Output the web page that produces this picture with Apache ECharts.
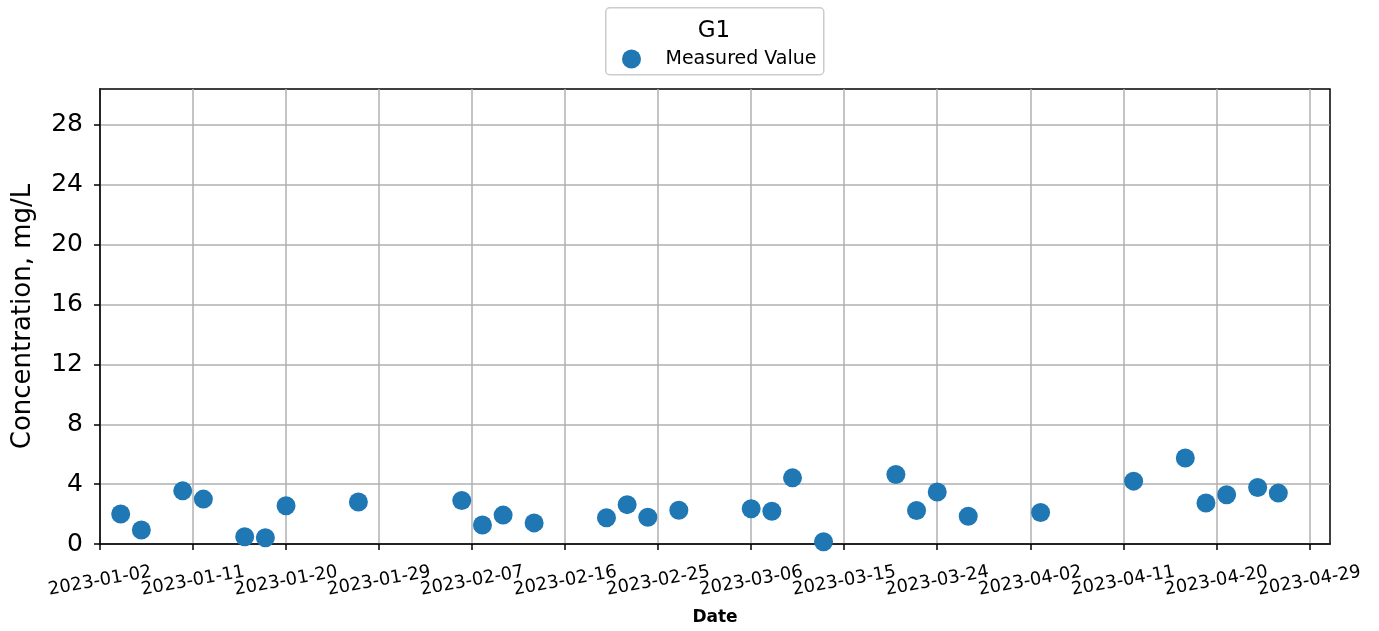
<!DOCTYPE html>
<html>
<head>
<meta charset="utf-8">
<script src="https://cdn.jsdelivr.net/npm/echarts@6/dist/echarts.min.js"></script>
<style>
html,body{margin:0;padding:0;background:#fff;}
#chart{width:1379px;height:631px;}
</style>
</head>
<body>
<div id="chart"></div>
<script>
// ---- data ----
const dates = [
  '2023-01-04','2023-01-06','2023-01-10','2023-01-12','2023-01-16','2023-01-18','2023-01-20',
  '2023-01-27','2023-02-06','2023-02-08','2023-02-10','2023-02-13','2023-02-20','2023-02-22',
  '2023-02-24','2023-02-27','2023-03-06','2023-03-08','2023-03-10','2023-03-13','2023-03-20',
  '2023-03-22','2023-03-24','2023-03-27','2023-04-03','2023-04-12','2023-04-17','2023-04-19',
  '2023-04-21','2023-04-24','2023-04-26'
];
const values = [
  2.0, 0.93, 3.55, 3.0, 0.49, 0.42, 2.55,
  2.8, 2.91, 1.27, 1.93, 1.41, 1.75, 2.63,
  1.79, 2.25, 2.36, 2.19, 4.42, 0.15, 4.64,
  2.24, 3.47, 1.86, 2.10, 4.2, 5.75, 2.74,
  3.29, 3.78, 3.40
];
const xStart = '2023-01-02';
const xEnd = '2023-05-01';
const xTickLabels = [
  '2023-01-02','2023-01-11','2023-01-20','2023-01-29','2023-02-07','2023-02-16','2023-02-25',
  '2023-03-06','2023-03-15','2023-03-24','2023-04-02','2023-04-11','2023-04-20','2023-04-29'
];
const yTicks = [0, 4, 8, 12, 16, 20, 24, 28];
const yMax = 30.4;
const seriesName = 'Measured Value';
const legendTitle = 'G1';
const xName = 'Date';
const yName = 'Concentration, mg/L';

// ---- helpers ----
const DAY = 86400000;
function toDay(s) { const p = s.split('-').map(Number); return Date.UTC(p[0], p[1]-1, p[2]) / DAY; }
function dayToStr(d) {
  const dt = new Date(Math.round(d) * DAY);
  const m = String(dt.getUTCMonth()+1).padStart(2,'0');
  const dd = String(dt.getUTCDate()).padStart(2,'0');
  return dt.getUTCFullYear() + '-' + m + '-' + dd;
}
const xMin = toDay(xStart), xMax = toDay(xEnd);
const xTicks = xTickLabels.map(toDay);
const xTicksEven = xTicks.filter((v, i) => i % 2 === 0);
const xTicksOdd = xTicks.filter((v, i) => i % 2 === 1);
const points = dates.map((d, i) => [toDay(d), values[i]]);

const chart = echarts.init(document.getElementById('chart'), null, {renderer: 'canvas'});
const FONT = 'DejaVu Sans';
const gridColor = '#b0b0b0';

const xLabelBase = {
  interval: 0, rotate: 10, align: 'center', verticalAlign: 'middle', margin: 37,
  fontFamily: FONT, fontSize: 18, color: '#000',
  showMinLabel: true, showMaxLabel: true, hideOverlap: false,
  formatter: function (v) { return dayToStr(v); }
};

chart.setOption({
  animation: false,
  backgroundColor: '#ffffff',
  textStyle: {fontFamily: FONT},
  grid: {left: 100, right: 49, top: 89, bottom: 87, show: true, borderColor: '#000', borderWidth: 1.5, backgroundColor: 'transparent'},
  graphic: [
    {type: 'rect', left: 605, top: 7, shape: {width: 218, height: 67, r: 4}, style: {fill: '#fff', stroke: '#cccccc', lineWidth: 1.5}, z: 0},
    {type: 'text', x: 714, y: 31, style: {text: legendTitle, fontFamily: FONT, fontSize: 23, fill: '#000', textAlign: 'center', textVerticalAlign: 'middle'}, z: 10}
  ],
  legend: {
    data: [seriesName],
    left: 622, top: 49.5, padding: 0,
    itemWidth: 58, itemHeight: 19, icon: 'circle',
    textStyle: {fontFamily: FONT, fontSize: 19, color: '#000'},
    z: 10
  },
  xAxis: [{
    type: 'value', min: xMin, max: xMax, position: 'bottom',
    name: xName, nameLocation: 'middle', nameGap: 65,
    nameTextStyle: {fontFamily: FONT, fontSize: 17, fontWeight: 'bold', color: '#000'},
    axisLine: {show: true, onZero: false, lineStyle: {color: '#000', width: 1.5}},
    axisTick: {show: true, inside: false, length: 6, interval: 0, customValues: xTicks, lineStyle: {color: '#000', width: 1.5}},
    splitLine: {show: true, interval: 0, lineStyle: {color: gridColor, width: 1.5}},
    axisLabel: Object.assign({customValues: xTicksEven}, xLabelBase)
  }, {
    type: 'value', min: xMin, max: xMax, position: 'bottom', offset: 0,
    axisLine: {show: false}, axisTick: {show: false}, splitLine: {show: false},
    axisLabel: Object.assign({customValues: xTicksOdd}, xLabelBase)
  }],
  yAxis: {
    type: 'value', min: 0, max: yMax,
    name: yName, nameLocation: 'middle', nameGap: 64, nameRotate: 90,
    nameTextStyle: {fontFamily: FONT, fontSize: 26, color: '#000'},
    axisLine: {show: true, onZero: false, lineStyle: {color: '#000', width: 1.5}},
    axisTick: {show: true, inside: false, length: 6, interval: 0, customValues: yTicks, lineStyle: {color: '#000', width: 1.5}},
    splitLine: {show: true, interval: 0, lineStyle: {color: gridColor, width: 1.5}},
    axisLabel: {
      customValues: yTicks, interval: 0,
      margin: 17, fontFamily: FONT, fontSize: 25, color: '#000',
      showMinLabel: true, showMaxLabel: true,
      formatter: function (v) { return String(v); }
    }
  },
  series: [{
    name: seriesName, type: 'scatter', data: points, xAxisIndex: 0,
    symbol: 'circle', symbolSize: 19,
    itemStyle: {color: '#1f77b4', opacity: 1},
    z: 5
  }]
});
</script>
</body>
</html>
